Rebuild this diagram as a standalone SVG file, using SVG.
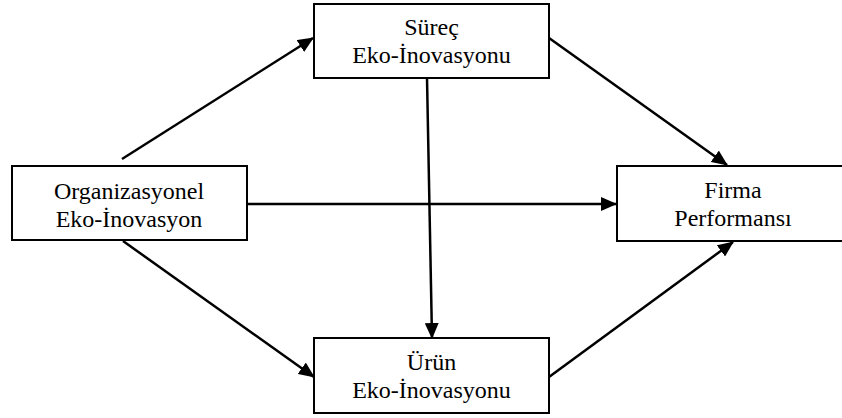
<svg xmlns="http://www.w3.org/2000/svg" width="842" height="418" viewBox="0 0 842 418">
  <style>
    .box { fill: #ffffff; stroke: #000000; stroke-width: 2; }
    .label { font-size: 24px; fill: #000000; text-anchor: middle; }
    .conn { stroke: #000000; stroke-width: 2.5; fill: none; marker-end: url(#arrow); }
  </style>
  <defs>
    <marker id="arrow" markerUnits="userSpaceOnUse" markerWidth="16" markerHeight="14" viewBox="0 0 16 14" refX="15" refY="7" orient="auto">
      <path d="M0,0 L16,7 L0,14 Z" fill="#000000"/>
    </marker>
  </defs>
  <rect width="842" height="418" fill="#ffffff"/>

  <g id="connectors">
    <line class="conn" x1="122" y1="159" x2="313" y2="38"/>
    <line class="conn" x1="247" y1="204" x2="616" y2="204"/>
    <line class="conn" x1="123" y1="241" x2="314" y2="377"/>
    <line class="conn" x1="549" y1="38" x2="727" y2="165"/>
    <line class="conn" x1="549" y1="377" x2="733" y2="242"/>
    <line class="conn" x1="427" y1="78" x2="432" y2="338"/>
  </g>

  <g font-family="'Liberation Serif', 'DejaVu Serif', serif">
    <g id="organizasyonel">
      <rect class="box" x="12" y="166" width="235" height="74"/>
      <text class="label" x="129" y="199">Organizasyonel</text>
      <text class="label" x="129" y="227">Eko-İnovasyon</text>
    </g>

    <g id="surec">
      <rect class="box" x="314" y="4" width="235" height="74"/>
      <text class="label" x="431.5" y="35">Süreç</text>
      <text class="label" x="431.5" y="63">Eko-İnovasyonu</text>
    </g>

    <g id="urun">
      <rect class="box" x="314" y="338" width="235" height="75"/>
      <text class="label" x="431.5" y="370">Ürün</text>
      <text class="label" x="431.5" y="398">Eko-İnovasyonu</text>
    </g>

    <g id="firma">
      <rect class="box" x="617" y="166" width="233" height="75"/>
      <text class="label" x="733" y="198">Firma</text>
      <text class="label" x="733" y="226">Performansı</text>
    </g>
  </g>
</svg>
